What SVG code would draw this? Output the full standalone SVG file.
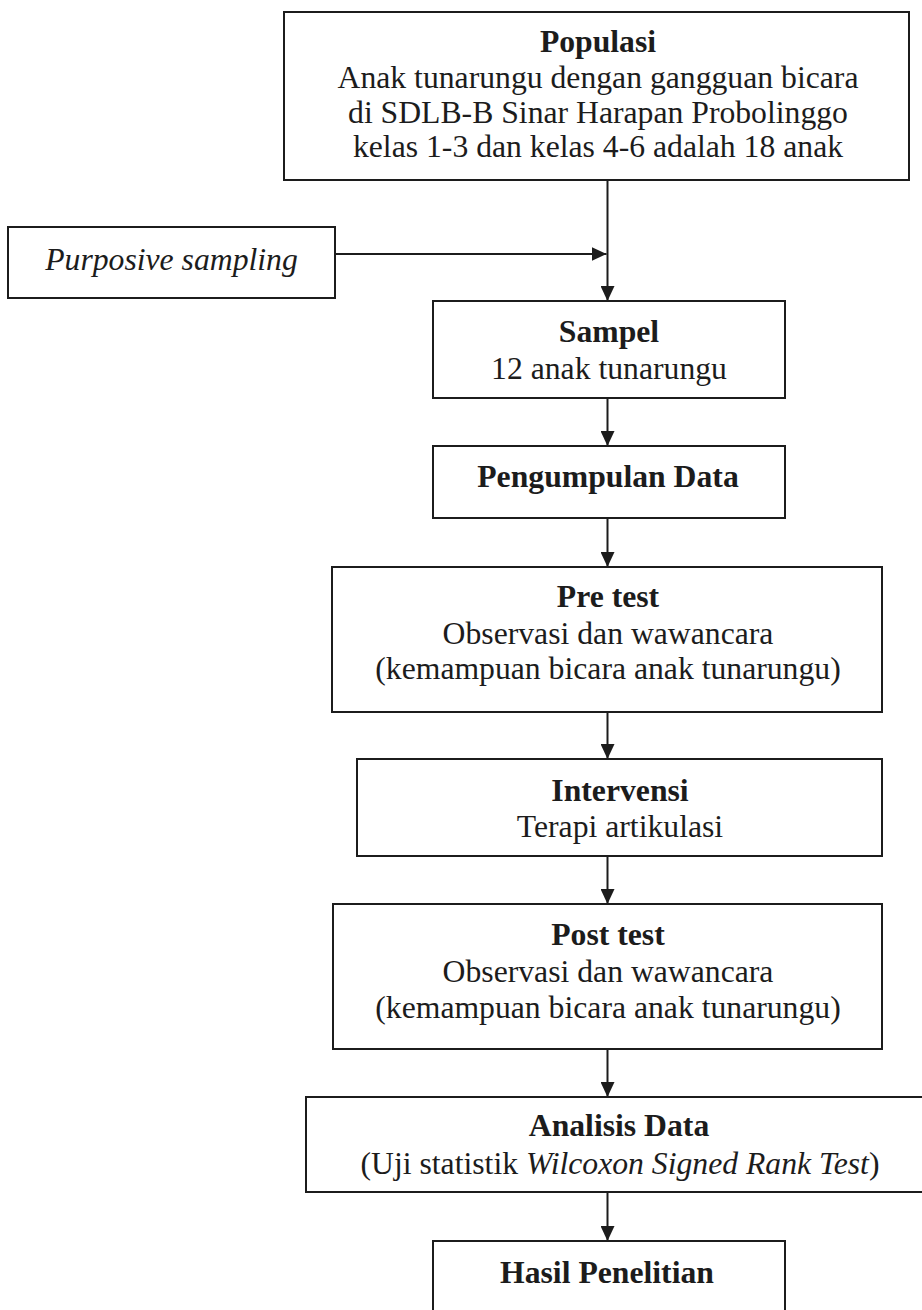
<svg xmlns="http://www.w3.org/2000/svg" width="922" height="1310" viewBox="0 0 922 1310">
<style>
.box{fill:#ffffff;stroke:#1c1c1c;stroke-width:2}
.t{font-family:"Liberation Serif","Times New Roman",serif;font-size:31.7px;fill:#1c1c1c;text-anchor:middle}
.b{font-weight:bold}
.i{font-style:italic}
.con{stroke:#1c1c1c;stroke-width:2;fill:none}
</style>
<defs>
<marker id="ah" markerWidth="15" markerHeight="14" refX="15" refY="7" orient="auto" markerUnits="userSpaceOnUse">
<path d="M0,0 L15,7 L0,14 z" fill="#1c1c1c"/>
</marker>
</defs>
<rect width="922" height="1310" fill="#ffffff"/>
<g id="connectors">
<line class="con" x1="607.5" y1="180" x2="607.5" y2="301" marker-end="url(#ah)"/>
<line class="con" x1="335" y1="254" x2="606.5" y2="254" marker-end="url(#ah)"/>
<line class="con" x1="607.5" y1="398" x2="607.5" y2="446" marker-end="url(#ah)"/>
<line class="con" x1="607.5" y1="518" x2="607.5" y2="567" marker-end="url(#ah)"/>
<line class="con" x1="607.5" y1="712" x2="607.5" y2="759" marker-end="url(#ah)"/>
<line class="con" x1="607.5" y1="856" x2="607.5" y2="904" marker-end="url(#ah)"/>
<line class="con" x1="607.5" y1="1049" x2="607.5" y2="1097" marker-end="url(#ah)"/>
<line class="con" x1="607.5" y1="1192" x2="607.5" y2="1241" marker-end="url(#ah)"/>
</g>
<g id="populasi">
<rect class="box" x="284" y="12" width="625" height="168"/>
<text class="t b" x="598" y="52">Populasi</text>
<text class="t" x="598" y="88">Anak tunarungu dengan gangguan bicara</text>
<text class="t" x="598" y="123">di SDLB-B Sinar Harapan Probolinggo</text>
<text class="t" x="598" y="157">kelas 1-3 dan kelas 4-6 adalah 18 anak</text>
</g>
<g id="purposive">
<rect class="box" x="8" y="227" width="327" height="71"/>
<text class="t i" x="171.5" y="270">Purposive sampling</text>
</g>
<g id="sampel">
<rect class="box" x="433" y="301" width="352" height="97"/>
<text class="t b" x="609" y="342">Sampel</text>
<text class="t" x="609" y="379">12 anak tunarungu</text>
</g>
<g id="pengumpulan">
<rect class="box" x="433" y="446" width="352" height="72"/>
<text class="t b" x="608" y="487">Pengumpulan Data</text>
</g>
<g id="pretest">
<rect class="box" x="332" y="567" width="550" height="145"/>
<text class="t b" x="608" y="607">Pre test</text>
<text class="t" x="608" y="644">Observasi dan wawancara</text>
<text class="t" x="608" y="679">(kemampuan bicara anak tunarungu)</text>
</g>
<g id="intervensi">
<rect class="box" x="357" y="759" width="525" height="97"/>
<text class="t b" x="620" y="801">Intervensi</text>
<text class="t" x="620" y="837">Terapi artikulasi</text>
</g>
<g id="posttest">
<rect class="box" x="333" y="904" width="549" height="145"/>
<text class="t b" x="608" y="945">Post test</text>
<text class="t" x="608" y="982">Observasi dan wawancara</text>
<text class="t" x="608" y="1018">(kemampuan bicara anak tunarungu)</text>
</g>
<g id="analisis">
<rect class="box" x="306" y="1097" width="628" height="95"/>
<text class="t b" x="619" y="1136">Analisis Data</text>
<text class="t" x="620" y="1174">(Uji statistik <tspan class="i">Wilcoxon Signed Rank Test</tspan>)</text>
</g>
<g id="hasil">
<rect class="box" x="433" y="1241" width="352" height="90"/>
<text class="t b" x="607" y="1283">Hasil Penelitian</text>
</g>
</svg>
